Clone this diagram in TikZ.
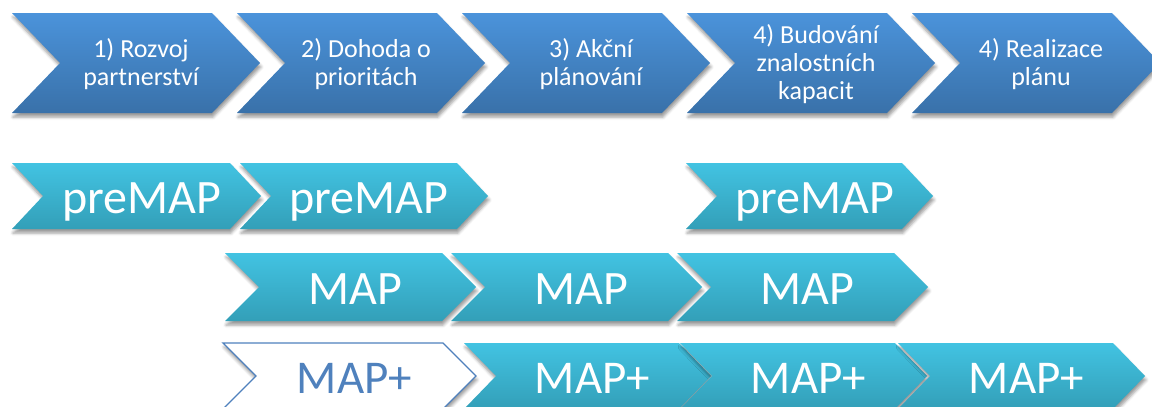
\documentclass[tikz,border=0pt]{standalone}
\usepackage{fontspec}
\setmainfont{Carlito}
\usetikzlibrary{shadows.blur}
\definecolor{blueTop}{HTML}{4B93DB}
\definecolor{blueBot}{HTML}{3971A9}
\definecolor{cyanTop}{HTML}{42C3E2}
\definecolor{cyanBot}{HTML}{339FB8}
\definecolor{lineBlue}{HTML}{4F81BD}
\newcommand{\chevron}[6]{% style, left, top, bottom, width, depth
  \path[#1] (#2,#3) -- ++(#5,0) -- ({#2+#5+#6},{(#3+#4)/2}) -- ({#2+#5},#4)
    -- (#2,#4) -- ({#2+#6},{(#3+#4)/2}) -- cycle;}
\tikzset{
  stepshadow/.style={blur shadow={shadow xshift=1pt, shadow yshift=-4pt,
      shadow blur radius=3pt, shadow opacity=40}},
  stepbox/.style={top color=blueTop, bottom color=blueBot, stepshadow},
  mapbox/.style={top color=cyanTop, bottom color=cyanBot, stepshadow},
  emptybox/.style={fill=white, draw=lineBlue, line width=1.3pt, stepshadow},
  steplabel/.style={text=white, align=center, inner sep=0pt,
      font=\fontsize{26}{28}\selectfont},
  maplabel/.style={text=white, anchor=base, inner sep=0pt,
      font=\fontsize{48}{56}\selectfont},
  pluslabel/.style={maplabel, font=\fontsize{47}{54}\selectfont}
}
\begin{document}
\begin{tikzpicture}[x=1pt,y=-1pt]
  \clip (0,0) rectangle (1152,407);
  \foreach \x/\name/\txt in {12/plan1/{1) Rozvoj\\partnerství},
      237/plan2/{2) Dohoda o\\prioritách}, 462/plan3/{3) Akční\\plánování},
      687/plan4/{4) Budování\\znalostních\\kapacit}, 912/plan5/{4) Realizace\\plánu}}{
    \chevron{stepbox}{\x}{13}{113}{200}{48}
    \node[steplabel] (\name) at (\x+129,64) {\txt};
  }
  \foreach \x/\w/\name in {12/218/pre1, 240/217/pre2, 686/216/pre3}{
    \chevron{mapbox}{\x}{163}{229}{\w}{31}
    \node[maplabel] (\name) at (\x+\w/2+20.5,213) {preMAP};
  }
  \foreach \x/\name in {225/map1, 451/map2, 677/map3}{
    \chevron{mapbox}{\x}{253}{321}{217}{34}
    \node[maplabel] (\name) at (\x+130.5,304.5) {MAP};
  }
  \chevron{emptybox}{223}{343}{409}{220}{33}
  \node[pluslabel, text=lineBlue] (plus1) at (354.5,393) {MAP+};
  \foreach \x/\name in {464/plus2, 680/plus3, 898/plus4}{
    \chevron{mapbox}{\x}{343}{409}{215}{32}
    \node[pluslabel] (\name) at (\x+128.5,393) {MAP+};
  }
\end{tikzpicture}
\end{document}
